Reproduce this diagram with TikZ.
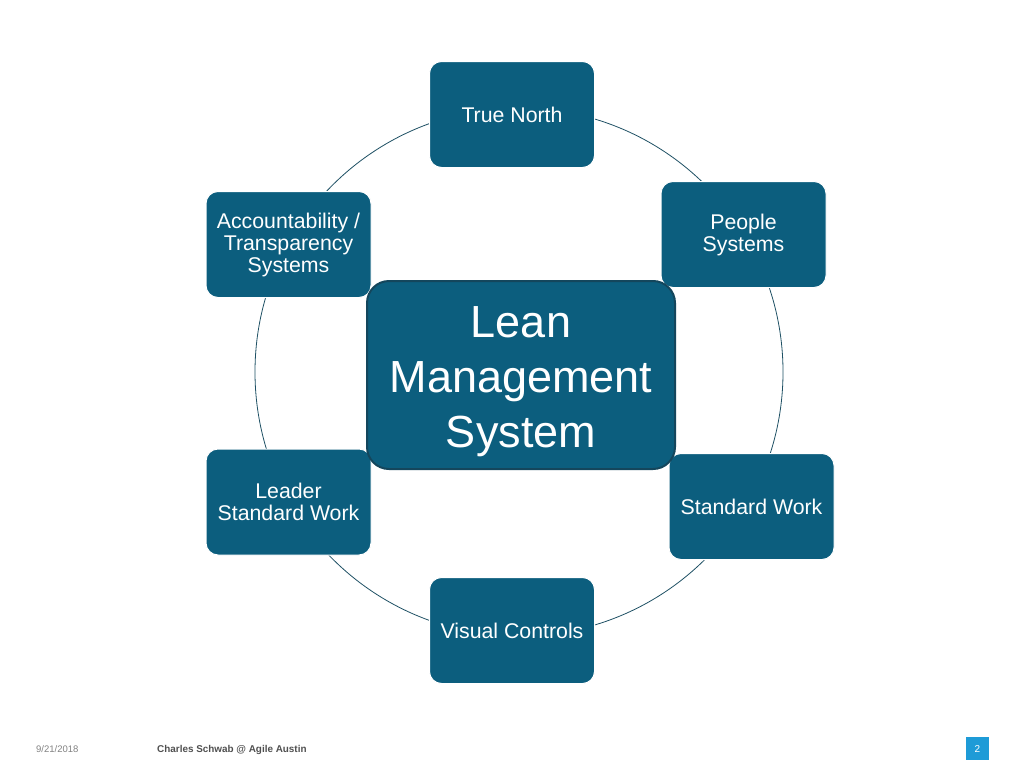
\documentclass[tikz,border=0pt]{standalone}
\usepackage{fontspec}
\setmainfont{Liberation Sans}
\definecolor{boxblue}{RGB}{12,94,126}
\definecolor{boxedge}{RGB}{20,70,92}
\definecolor{ringcol}{RGB}{30,80,100}
\definecolor{pagecyan}{RGB}{30,155,215}
\definecolor{dategrey}{RGB}{130,130,130}
\definecolor{footgrey}{RGB}{80,80,80}
\begin{document}
\begin{tikzpicture}[x=1pt,y=-1pt,
  smallbox/.style={rectangle, rounded corners=12pt, fill=boxblue, draw=white, line width=1pt,
    minimum width=165pt, minimum height=106pt, inner sep=0pt, align=center, text=white,
    font=\fontsize{21.3}{22}\selectfont},
  bigbox/.style={rectangle, rounded corners=22pt, fill=boxblue, draw=boxedge, line width=2pt,
    minimum width=308pt, minimum height=188pt, inner sep=0pt},
  bigtext/.style={align=center, text=white, inner sep=0pt, font=\fontsize{45}{55}\selectfont},
  ring/.style={draw=ringcol, line width=0.8pt}]
\useasboundingbox (0,0) rectangle (1024,768);
\fill[white] (0,0) rectangle (1024,768);
\coordinate (ctr) at (519,372);
\draw[ring] (ctr) circle[radius=264];
\node[smallbox] (tn) at (512,114.5) {True North};
\node[smallbox] (ps) at (743.5,234.5) {People\\Systems};
\node[smallbox] (sw) at (751.5,506.5) {Standard Work};
\node[smallbox] (vc) at (512,630.5) {Visual Controls};
\node[smallbox] (lsw) at (288.5,502) {Leader\\Standard Work};
\node[smallbox] (ats) at (288.5,244.5) {Accountability /\\Transparency\\Systems};
\node[bigbox, label={[bigtext, yshift=-7pt]center:Lean\\Management\\System}] (lms) at (521,375) {};
\node[anchor=base west, text=dategrey, font=\fontsize{9.5}{11}\selectfont, inner sep=0pt] (date) at (36,752) {9/21/2018};
\node[anchor=base west, text=footgrey, font=\bfseries\fontsize{9.9}{11}\selectfont, inner sep=0pt] (foot) at (157,752) {Charles Schwab @ Agile Austin};
\node[rectangle, fill=pagecyan, minimum width=23pt, minimum height=23pt, inner sep=0pt, text=white, font=\fontsize{10}{11}\selectfont] (pg) at (977.5,748.5) {2};
\end{tikzpicture}
\end{document}
